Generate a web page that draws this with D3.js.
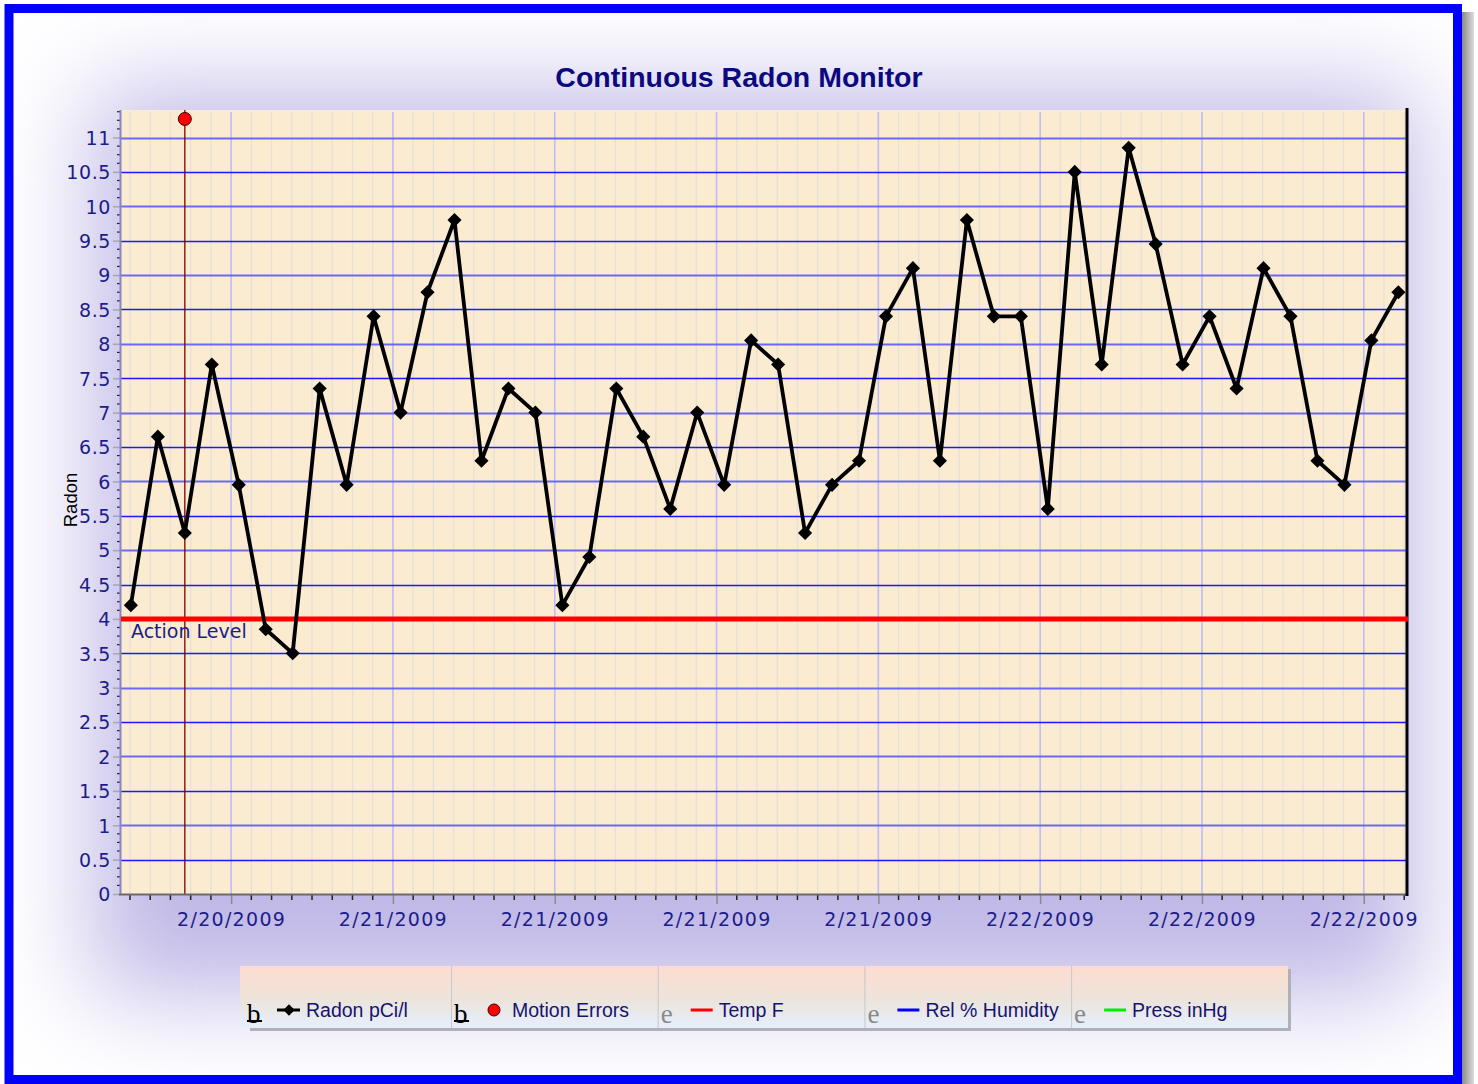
<!DOCTYPE html>
<html>
<head>
<meta charset="utf-8">
<script src="https://cdn.jsdelivr.net/npm/d3@7"></script>
<style>
  body { margin: 0; background: #fff; }
  svg { display: block; }
</style>
</head>
<body>
<svg width="1478" height="1084"></svg>
<script>
// Data
const startTime = new Date(2009, 1, 20, 14, 17);   // first hourly reading
const radonValues = [4.2, 6.65, 5.25, 7.7, 5.95, 3.85, 3.5, 7.35, 5.95, 8.4, 7.0, 8.75,
    9.8, 6.3, 7.35, 7.0, 4.2, 4.9, 7.35, 6.65, 5.6, 7.0, 5.95, 8.05,
    7.7, 5.25, 5.95, 6.3, 8.4, 9.1, 6.3, 9.8, 8.4, 8.4, 5.6, 10.5,
    7.7, 10.85, 9.45, 7.7, 8.4, 7.35, 9.1, 8.4, 6.3, 5.95, 8.05, 8.75];
const motionErrors = [{ time: new Date(2009, 1, 20, 16, 17), value: 11.27 }];
const actionLevel = 4;
const yTicks = d3.range(0, 11.01, 0.5);
const legendItems = [
    { label: "Radon pCi/l", kind: "diamond", color: "#000", on: true },
    { label: "Motion Errors", kind: "dot", color: "#ff0000", on: true },
    { label: "Temp F", kind: "line", color: "#ff0000", on: false },
    { label: "Rel % Humidity", kind: "line", color: "#0000ff", on: false },
    { label: "Press inHg", kind: "line", color: "#00ee00", on: false }
];

let svg = d3.select("svg"),
    width = +svg.attr("width"),
    height = +svg.attr("height");

let readings = radonValues.map((v, i) => ({ time: d3.timeHour.offset(startTime, i), value: v }));

let plot = { left: 121, right: 1406, top: 110, bottom: 894 };

let x = d3.scaleTime()
    .domain([new Date(2009, 1, 20, 13, 55), new Date(2009, 1, 22, 13, 34)])
    .range([plot.left, plot.right]);
let y = d3.scaleLinear()
    .domain([0, 11.4])
    .range([plot.bottom, plot.top]);

let defs = svg.append("defs");
let blur = defs.append("filter").attr("id", "glow")
    .attr("x", "-30%").attr("y", "-30%").attr("width", "160%").attr("height", "160%");
blur.append("feGaussianBlur").attr("stdDeviation", 50);

let legGrad = defs.append("linearGradient").attr("id", "legGrad")
    .attr("x1", 0).attr("y1", 0).attr("x2", 0).attr("y2", 1);
legGrad.append("stop").attr("offset", "0%").attr("stop-color", "#fedccf");
legGrad.append("stop").attr("offset", "55%").attr("stop-color", "#ece4dc");
legGrad.append("stop").attr("offset", "100%").attr("stop-color", "#e6effd");

let shadowGrad = defs.append("linearGradient").attr("id", "shadowGrad")
    .attr("x1", 0).attr("y1", 0).attr("x2", 1).attr("y2", 0);
shadowGrad.append("stop").attr("offset", "0%").attr("stop-color", "#888");
shadowGrad.append("stop").attr("offset", "100%").attr("stop-color", "#ddd");

// Background and frame
svg.append("rect").attr("x", 13).attr("y", 12).attr("width", 1440).attr("height", 1063)
    .attr("fill", "#ffffff");
let bgClip = defs.append("clipPath").attr("id", "bgClip");
bgClip.append("rect").attr("x", 13).attr("y", 12).attr("width", 1440).attr("height", 1063);
svg.append("g").attr("clip-path", "url(#bgClip)")
    .append("rect")
    .attr("x", 92).attr("y", 90).attr("width", 1326).attr("height", 905)
    .attr("fill", "#c0b8e6")
    .attr("filter", "url(#glow)");

svg.append("rect").attr("x", 1462).attr("y", 12).attr("width", 12).attr("height", 1072)
    .attr("fill", "url(#shadowGrad)");
svg.append("rect").attr("x", 9).attr("y", 8.5).attr("width", 1448.5).attr("height", 1071)
    .attr("fill", "none").attr("stroke", "#0000ff").attr("stroke-width", 9);

// Title
svg.append("text")
    .attr("x", 739).attr("y", 87)
    .attr("text-anchor", "middle")
    .style("font-family", "'Liberation Sans', Arial, sans-serif")
    .style("font-weight", "bold")
    .style("font-size", "28.5px")
    .style("fill", "#0a0a7e")
    .text("Continuous Radon Monitor");

// Plot background
svg.append("rect")
    .attr("x", plot.left).attr("y", plot.top)
    .attr("width", plot.right - plot.left).attr("height", plot.bottom - plot.top)
    .attr("fill", "#fbebd0");

// Time ticks: majors every 6 h, minors every 45 min from a major
let majorTicks = x.ticks(d3.timeHour.every(6));
let minorTicks = [];
let t0 = majorTicks[0];
for (let k = -10; k < 80; k++) {
    let t = d3.timeMinute.offset(t0, 45 * k);
    if (t >= x.domain()[0] && t <= x.domain()[1]) minorTicks.push(t);
}

// Vertical grid lines
svg.append("g").selectAll("line")
    .data(minorTicks)
    .enter().append("line")
    .attr("x1", d => x(d)).attr("x2", d => x(d))
    .attr("y1", plot.top + 2).attr("y2", plot.bottom)
    .style("stroke", "#e6e0da")
    .style("stroke-width", 1.3);
svg.append("g").selectAll("line")
    .data(majorTicks)
    .enter().append("line")
    .attr("x1", d => x(d)).attr("x2", d => x(d))
    .attr("y1", plot.top + 2).attr("y2", plot.bottom)
    .style("stroke", "#bcbcfa")
    .style("stroke-width", 1.5);

// Horizontal grid lines
svg.append("g").selectAll("line")
    .data(yTicks.filter(v => v > 0))
    .enter().append("line")
    .attr("x1", plot.left).attr("x2", plot.right)
    .attr("y1", d => Math.round(y(d)) + 0.5).attr("y2", d => Math.round(y(d)) + 0.5)
    .style("stroke", d => Number.isInteger(d) ? "#6a6af2" : "#1a1aff")
    .style("stroke-width", d => Number.isInteger(d) ? 2 : 1.3);

// Motion error marker line
svg.append("g").selectAll("line")
    .data(motionErrors)
    .enter().append("line")
    .attr("x1", d => x(d.time)).attr("x2", d => x(d.time))
    .attr("y1", plot.top).attr("y2", plot.bottom)
    .style("stroke", "#800000")
    .style("stroke-width", 1.3);

// Y axis
let yAxis = svg.append("g").attr("transform", `translate(${plot.left},0)`)
    .call(d3.axisLeft(y).tickValues(yTicks).tickSize(8).tickPadding(2)
        .tickFormat(d => d3.format("")(d)));
yAxis.select(".domain").remove();
yAxis.selectAll(".tick line").style("stroke", "#a8a8a8").style("stroke-width", 1.5);
yAxis.selectAll(".tick text")
    .attr("dy", "0.36em")
    .style("font-family", "'DejaVu Sans', Verdana, sans-serif")
    .style("font-size", "19px")
    .style("letter-spacing", "0.6px")
    .style("fill", "#1c1c8a");
let yMinor = d3.range(0, 11.4, 0.125).filter(v => Math.abs(v * 2 - Math.round(v * 2)) > 0.01);
svg.append("g").selectAll("line")
    .data(yMinor)
    .enter().append("line")
    .attr("x1", plot.left - 4).attr("x2", plot.left - 1)
    .attr("y1", d => y(d)).attr("y2", d => y(d))
    .style("stroke", "#222")
    .style("stroke-width", 1.2);
svg.append("line")
    .attr("x1", plot.left - 0.5).attr("x2", plot.left - 0.5)
    .attr("y1", plot.top).attr("y2", plot.bottom)
    .style("stroke", "#8686c6").style("stroke-width", 2);

svg.append("text")
    .attr("transform", "translate(77,500) rotate(-90)")
    .attr("text-anchor", "middle")
    .style("font-family", "'Liberation Sans', Arial, sans-serif")
    .style("font-size", "18.5px")
    .style("fill", "#000")
    .text("Radon");

// X axis
let xAxis = svg.append("g").attr("transform", `translate(0,${plot.bottom})`)
    .call(d3.axisBottom(x).tickValues(majorTicks).tickSize(10).tickPadding(9)
        .tickFormat(d3.timeFormat("%-m/%-d/%Y")));
xAxis.select(".domain").remove();
xAxis.selectAll(".tick line").style("stroke", "#8a8a8a").style("stroke-width", 1.5);
xAxis.selectAll(".tick text")
    .style("font-family", "'DejaVu Sans', Verdana, sans-serif")
    .style("font-size", "19px")
    .style("letter-spacing", "1.3px")
    .style("fill", "#1c1c8a");
svg.append("g").selectAll("line")
    .data(minorTicks.filter(t => !majorTicks.some(m => +m === +t)))
    .enter().append("line")
    .attr("x1", d => x(d)).attr("x2", d => x(d))
    .attr("y1", plot.bottom).attr("y2", plot.bottom + 6)
    .style("stroke", "#222")
    .style("stroke-width", 1.5);
svg.append("line")
    .attr("x1", plot.left - 2).attr("x2", plot.right)
    .attr("y1", plot.bottom + 0.5).attr("y2", plot.bottom + 0.5)
    .style("stroke", "#6a6a6a").style("stroke-width", 2);

// Right border
svg.append("line")
    .attr("x1", plot.right + 1).attr("x2", plot.right + 1)
    .attr("y1", plot.top - 2).attr("y2", plot.bottom + 2)
    .style("stroke", "#000").style("stroke-width", 3);

// Action level
svg.append("line")
    .attr("x1", plot.left).attr("x2", plot.right + 2)
    .attr("y1", y(actionLevel)).attr("y2", y(actionLevel))
    .style("stroke", "#ff0000").style("stroke-width", 5);
svg.append("text")
    .attr("x", plot.left + 10).attr("y", y(actionLevel) + 19)
    .style("font-family", "'DejaVu Sans', Verdana, sans-serif")
    .style("font-size", "19px")
    .style("fill", "#1c1c8a")
    .text("Action Level");

// Radon series
let line = d3.line().x(d => x(d.time)).y(d => y(d.value));
svg.append("path")
    .datum(readings)
    .attr("d", line)
    .style("fill", "none")
    .style("stroke", "#000")
    .style("stroke-width", 3.8)
    .style("stroke-linejoin", "round");

let diamond = d3.symbol().type(d3.symbolSquare).size(100);
svg.append("g").selectAll("path")
    .data(readings)
    .enter().append("path")
    .attr("d", diamond)
    .attr("transform", d => `translate(${x(d.time)},${y(d.value)}) rotate(45)`)
    .style("fill", "#000");

// Motion errors
svg.append("g").selectAll("circle")
    .data(motionErrors)
    .enter().append("circle")
    .attr("cx", d => x(d.time))
    .attr("cy", d => y(d.value))
    .attr("r", 6.5)
    .style("fill", "#ff0000")
    .style("stroke", "#400000")
    .style("stroke-width", 1);

// Legend
let leg = { x: 240, y: 966, w: 1048, h: 62 };
let firstW = 211, cellW = 206.7;
let cellX = (i) => i === 0 ? leg.x : leg.x + firstW + (i - 1) * cellW;
svg.append("rect")
    .attr("x", leg.x + 10).attr("y", leg.y + 3).attr("width", leg.w - 7).attr("height", leg.h)
    .attr("fill", "#b0b0b8");
svg.append("rect")
    .attr("x", leg.x).attr("y", leg.y).attr("width", leg.w).attr("height", leg.h)
    .attr("fill", "url(#legGrad)");

let cells = svg.append("g").selectAll("g")
    .data(legendItems)
    .enter().append("g")
    .attr("transform", (d, i) => `translate(${cellX(i)},${leg.y})`);

cells.filter((d, i) => i > 0).append("line")
    .attr("x1", 0.5).attr("x2", 0.5).attr("y1", 0).attr("y2", leg.h)
    .style("stroke", "#c8c8c8").style("stroke-width", 1);

cells.append("text")
    .attr("x", (d, i) => i === 0 ? 7 : 3).attr("y", 57)
    .style("font-family", "'Liberation Serif', 'Times New Roman', serif")
    .style("font-size", "27px")
    .style("fill", d => d.on ? "#000" : "#8a8a8a")
    .text(d => d.on ? "b" : "e");
cells.filter(d => d.on).append("line")
    .attr("x1", (d, i) => i === 0 ? 7 : 3).attr("x2", (d, i) => i === 0 ? 22 : 18)
    .attr("y1", 55).attr("y2", 55)
    .style("stroke", "#000").style("stroke-width", 2);

cells.filter(d => d.kind === "diamond").append("line")
    .attr("x1", 37).attr("x2", 60).attr("y1", 44).attr("y2", 44)
    .style("stroke", d => d.color).style("stroke-width", 3);
cells.filter(d => d.kind === "diamond").append("path")
    .attr("d", d3.symbol().type(d3.symbolSquare).size(64))
    .attr("transform", "translate(49,44) rotate(45)")
    .style("fill", d => d.color);
cells.filter(d => d.kind === "dot").append("circle")
    .attr("cx", 43).attr("cy", 44).attr("r", 6)
    .style("fill", d => d.color).style("stroke", "#400000").style("stroke-width", 1);
cells.filter(d => d.kind === "line").append("line")
    .attr("x1", 33).attr("x2", 55).attr("y1", 44).attr("y2", 44)
    .style("stroke", d => d.color).style("stroke-width", 3);

cells.append("text")
    .attr("x", (d, i) => i === 0 ? 66 : 61)
    .attr("y", 51)
    .style("font-family", "'Liberation Sans', Arial, sans-serif")
    .style("font-size", "19.5px")
    .style("fill", "#141470")
    .text(d => d.label);
</script>
</body>
</html>
